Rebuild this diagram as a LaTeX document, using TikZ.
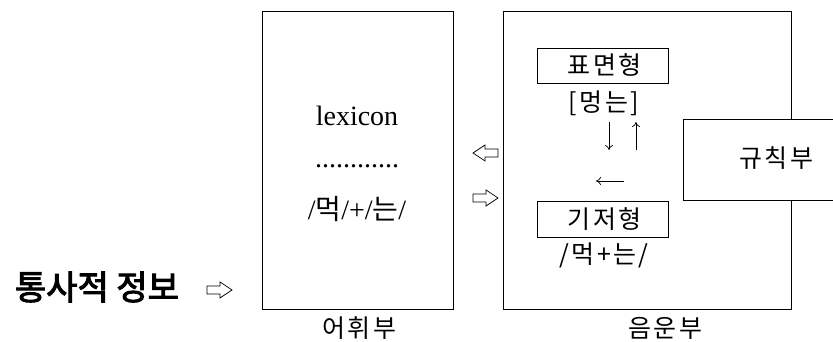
\documentclass[tikz,border=0pt]{standalone}
\usepackage{fontspec}
\usetikzlibrary{arrows.meta}
\setmainfont{Liberation Serif}
\newfontfamily\kr{Noto Sans CJK KR}[LetterSpace=10]
\newfontfamily\krb{Noto Sans CJK KR}[FakeBold=3]
\begin{document}
\begin{tikzpicture}[x=1pt,y=1pt,
  box/.style={draw,line width=0.9pt,inner sep=0pt},
  lbl/.style={inner sep=0pt,font=\kr\fontsize{25}{27}\selectfont},
  lat/.style={inner sep=0pt,font=\fontsize{28}{30}\selectfont},
  thin/.style={line width=0.7pt,-{To[length=5pt,width=8pt]}},
  hollow/.style={draw,line width=0.7pt,fill=white}]
\useasboundingbox (0,0) rectangle (833,342);
% main boxes
\node[box,minimum width=191pt,minimum height=298pt] (lexbox) at (357.5,182) {};
\node[box,minimum width=288pt,minimum height=298pt] (phonbox) at (647,182) {};
\node[box,fill=white,minimum width=152pt,minimum height=81pt] (rulebox) at (759,182.5) {};
\node[lbl] (rule) at (776,184) {규칙부};
% labels under boxes
\node[lbl] (lexlbl) at (359,14) {어휘부};
\node[lbl] (phonlbl) at (665,14) {음운부};
% lexicon contents
\node[lat] (lexicon) at (357,226) {lexicon};
\node[lat,anchor=base] (dots) at (357,174) {............};
\node[lat] (lexform) at (357,133) {/{\kr 먹}/+/{\kr 는}/};
% surface / underlying forms
\node[box,minimum width=131pt,minimum height=35pt] (surf) at (602.5,276.5) {};
\node[lbl] at ([xshift=2pt]surf.center) {표면형};
\node[lbl] (surfform) at (604,239) {[멍는]};
\node[box,minimum width=131pt,minimum height=36pt] (base) at (602.5,123) {};
\node[lbl] at ([xshift=2pt]base.center) {기저형};
\node[lbl] (baseform) at (604,87) {/먹+는/};
% small arrows
\coordinate (d1) at (609,220);
\coordinate (d2) at (609,192);
\coordinate (u1) at (636,192);
\coordinate (u2) at (636,220);
\coordinate (l1) at (624,161);
\coordinate (l2) at (596,161);
\draw[thin] (d1) -- (d2);
\draw[thin] (u1) -- (u2);
\draw[thin] (l1) -- (l2);
% hollow arrows
\draw[hollow] (498,185) -- (485,185) -- (485,181) -- (473,189) -- (485,197) -- (485,193) -- (498,193) -- cycle;
\draw[hollow] (473,140) -- (486,140) -- (486,136) -- (498,144) -- (486,152) -- (486,148) -- (473,148) -- cycle;
% syntactic info
\node[inner sep=0pt,font=\krb\fontsize{34}{36}\selectfont] (syn) at (97,55) {통사적 정보};
\draw[hollow] (207,48) -- (220,48) -- (220,44) -- (232,52) -- (220,60) -- (220,56) -- (207,56) -- cycle;
\end{tikzpicture}
\end{document}
